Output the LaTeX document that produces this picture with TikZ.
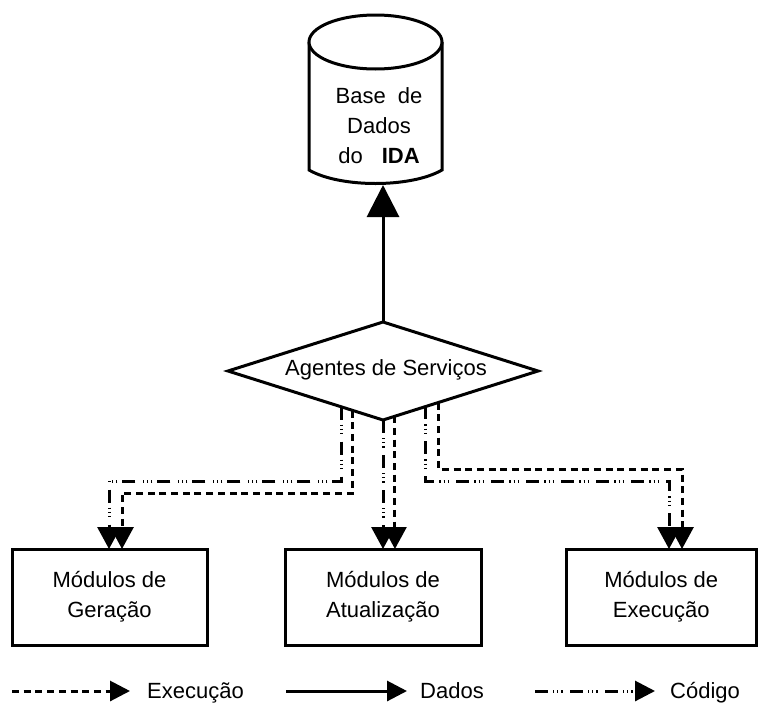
\documentclass[tikz,border=0pt]{standalone}
\usepackage{fontspec}
\setmainfont{Liberation Sans}
\usetikzlibrary{arrows.meta,shapes.geometric,calc}

\begin{document}
\begin{tikzpicture}[x=1pt,y=-1pt,
  txt/.style={font=\fontsize{22pt}{30pt}\selectfont, align=center, inner sep=0pt},
  legtxt/.style={font=\fontsize{22pt}{26pt}\selectfont, inner sep=0pt, anchor=base west},
  heavy/.style={line width=3pt, line join=miter},
  execline/.style={heavy, dash pattern=on 7pt off 4.7pt},
  codeline/.style={heavy, dash pattern=on 13pt off 5pt on 1.2pt off 3pt on 1.2pt off 3pt on 1.2pt off 7.4pt},
  tipsmall/.style={-{Triangle[length=22pt,width=23pt]}},
  tipbig/.style={-{Triangle[length=32pt,width=32pt]}},
  tiplegend/.style={-{Triangle[length=20pt,width=20pt]}},
  modbox/.style={txt, draw, heavy, minimum height=96pt, outer sep=0pt}
]
\useasboundingbox (0,0) rectangle (759,704);

% database cylinder
\draw[heavy] (309,42) -- (309,170) .. controls (340,188) and (411,188) .. (442,170) -- (442,42);
\draw[heavy, fill=white] (375.5,42) ellipse [x radius=66.5, y radius=27];
\node[txt] (db) at (379,126) {Base\hspace{12pt}de\\Dados\\do\hspace{19pt}\textbf{IDA}};
\coordinate (dbin) at (383,185);

% service agents
\node[txt, draw, heavy, shape=diamond, aspect=3.16, minimum width=310pt,
      minimum height=98pt, outer sep=0pt] (ag) at (383,371) {};
\node[txt] (agtxt) at (386,370) {Agentes de Serviços};

% module boxes
\node[modbox, minimum width=195pt] (gen) at (109.5,597) {Módulos de\\Geração};
\node[modbox, minimum width=196pt] (upd) at (383,597) {Módulos de\\Atualização};
\node[modbox, minimum width=190.5pt] (exe) at (661.25,597) {Módulos de\\Execução};

% start points on the lower edges of the diamond
\coordinate (cL) at ($(ag.south)!0.271!(ag.west)$);
\coordinate (eL) at ($(ag.south)!0.194!(ag.west)$);
\coordinate (eM) at ($(ag.south)!0.077!(ag.east)$);
\coordinate (cR) at ($(ag.south)!0.277!(ag.east)$);
\coordinate (eR) at ($(ag.south)!0.355!(ag.east)$);

% bend levels
\coordinate (yc) at (0,481);
\coordinate (yeL) at (0,493);
\coordinate (yeR) at (0,469);

% data flow
\draw[heavy, tipbig] (ag.north) -- (dbin);

% connectors to the generation modules
\draw[codeline, tipsmall] (cL) -- (cL |- yc) -| ([xshift=-0.5pt]gen.north);
\draw[execline, tipsmall] (eL) -- (eL |- yeL) -| ([xshift=12.5pt]gen.north);

% connectors to the update modules
\draw[codeline, tipsmall] (ag.south) -- (upd.north);
\draw[execline, tipsmall] (eM) -- (eM |- upd.north);

% connectors to the execution modules
\draw[codeline, tipsmall] (cR) -- (cR |- yc) -| ([xshift=7.75pt]exe.north);
\draw[execline, tipsmall] (eR) -- (eR |- yeR) -| ([xshift=20.75pt]exe.north);

% legend
\coordinate (l1a) at (12,691);   \coordinate (l1b) at (130,691);
\coordinate (l2a) at (286,691);  \coordinate (l2b) at (407,691);
\coordinate (l3a) at (535,691);  \coordinate (l3b) at (655,691);
\draw[execline, tiplegend] (l1a) -- (l1b);
\draw[heavy, tiplegend] (l2a) -- (l2b);
\draw[codeline, tiplegend] (l3a) -- (l3b);
\node[legtxt] (t1) at (147,698) {Execução};
\node[legtxt] (t2) at (420,698) {Dados};
\node[legtxt] (t3) at (670,698) {Código};
\end{tikzpicture}
\end{document}
